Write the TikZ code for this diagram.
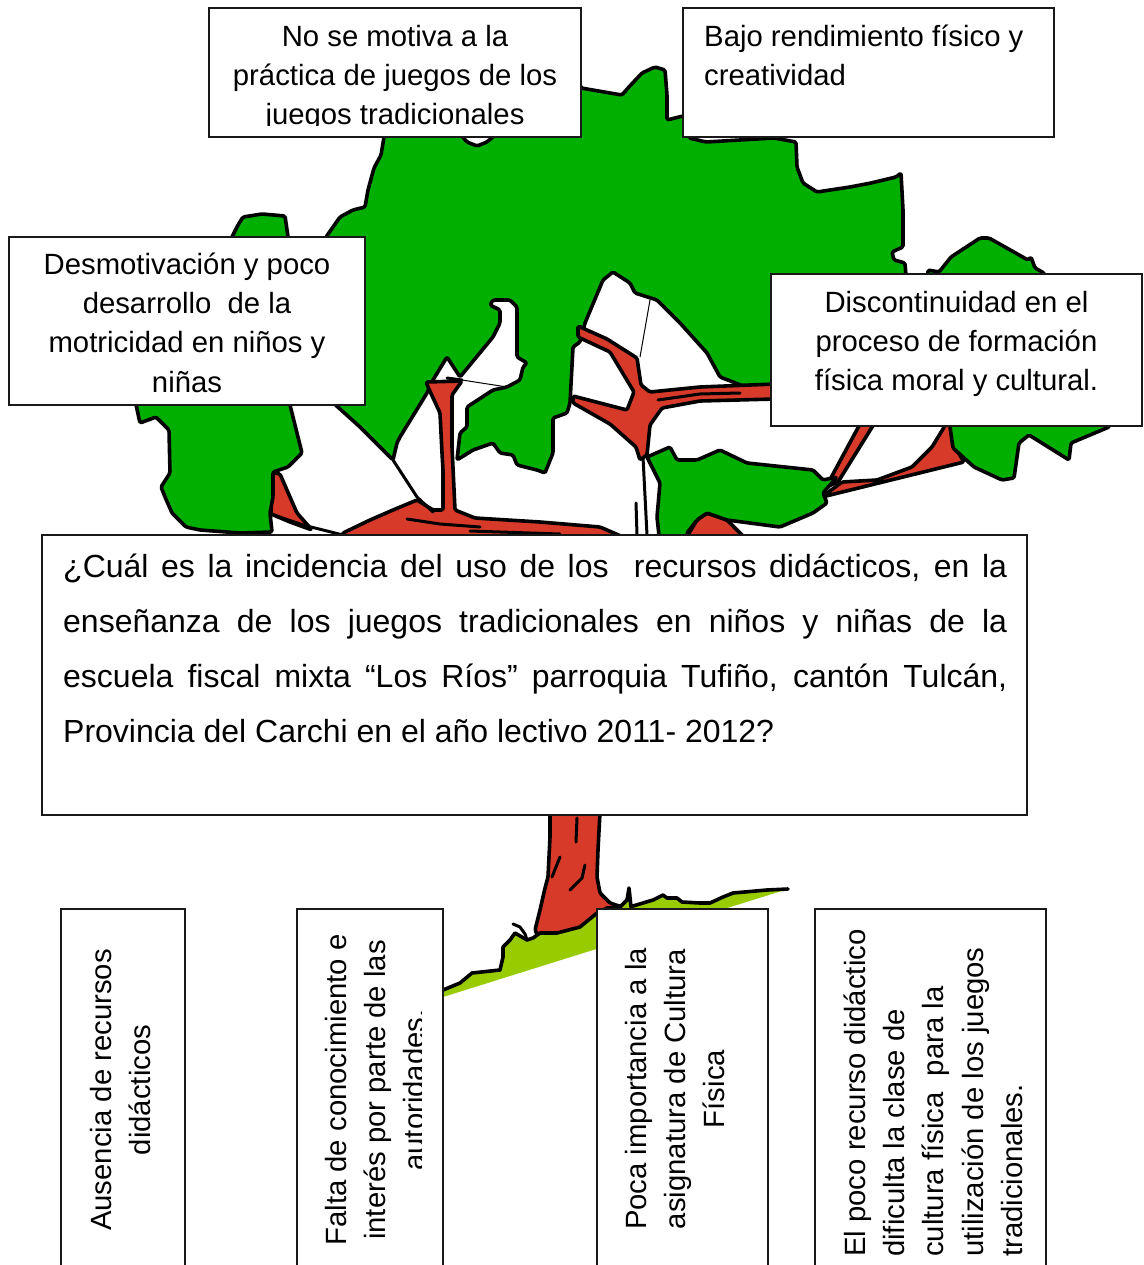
\documentclass[tikz,border=0pt]{standalone}
\usepackage{fontspec}
\setmainfont{Liberation Sans}
\definecolor{leaf}{RGB}{0,175,0}
\definecolor{bark}{RGB}{216,58,42}
\definecolor{turf}{RGB}{153,204,0}
\newcommand{\lnstrut}[1]{\rule{0pt}{#1}}

\begin{document}
\begin{tikzpicture}[x=1pt,y=-1pt,
  outline/.style={draw=black, line width=3.6pt, line join=round, line cap=round, rounded corners=1.5pt},
  foliage/.style={outline, fill=leaf},
  sky/.style={outline, fill=white},
  wood/.style={outline, fill=bark},
  ink/.style={draw=black, line width=3pt, line cap=round, line join=round},
  hair/.style={draw=black, line width=1pt, line cap=round},
  card/.style={draw=black!90, line width=1.6pt, fill=white, inner sep=0pt},
  label/.style={inner sep=0pt, font=\fontsize{29.3}{39.3}\selectfont, align=center},
]
\useasboundingbox (0,0) rectangle (1143,1265);
\clip (0,0) rectangle (1143,1265);
\fill[white] (0,0) rectangle (1143,1265);

% ---------- crown ----------
\draw[foliage] (335,405) -- (332,300) -- (326,237) -- (340,217) -- (353,210) -- (365,207) -- (368,190)
  -- (374,168) -- (381,155) -- (384,137) -- (390,120) -- (575,70) -- (581,88) -- (610,93) -- (622,95)
  -- (628,88) -- (642,73) -- (655,67) -- (665,70) -- (667,95) -- (667,120) -- (675,118) -- (683,116)
  -- (690,120) -- (689,138) -- (706,142) -- (740,140) -- (774,138) -- (796,142) -- (797,167) -- (803,183)
  -- (817,192) -- (850,187) -- (871,183) -- (896,177) -- (901,173) -- (903,210) -- (903,247) -- (892,252)
  -- (894,260) -- (905,263) -- (906,276) -- (900,330) -- (790,420) -- (700,545) -- (330,545) -- cycle;

% open sky between the branches: white fill, outlined only where it meets the leaves
\fill[white] (265,545) -- (265,475) -- (285,470) -- (285,400) -- (330,400) -- (360,427) -- (393,460)
  -- (397,443) -- (400,437) -- (427,393) -- (433,380) -- (447,357) -- (460,377) -- (493,337) -- (500,323)
  -- (500,310) -- (490,305) -- (493,300) -- (510,300) -- (517,307) -- (517,357) -- (527,363) -- (523,367)
  -- (520,380) -- (507,387) -- (493,390) -- (467,407) -- (467,427) -- (460,433) -- (457,460) -- (473,450)
  -- (493,443) -- (500,453) -- (513,455) -- (517,465) -- (537,470) -- (545,473) -- (553,453) -- (553,418)
  -- (567,413) -- (570,403) -- (573,347) -- (580,342) -- (585,323) -- (603,280) -- (613,272) -- (630,283)
  -- (635,293) -- (657,300) -- (680,323) -- (707,353) -- (720,377) -- (733,382) -- (753,390) -- (771,392)
  -- (1150,392) -- (1150,545) -- cycle;
\draw[outline] (285,400) -- (330,400) -- (360,427) -- (393,460)
  -- (397,443) -- (400,437) -- (427,393) -- (433,380) -- (447,357) -- (460,377) -- (493,337) -- (500,323)
  -- (500,310) -- (490,305) -- (493,300) -- (510,300) -- (517,307) -- (517,357) -- (527,363) -- (523,367)
  -- (520,380) -- (507,387) -- (493,390) -- (467,407) -- (467,427) -- (460,433) -- (457,460) -- (473,450)
  -- (493,443) -- (500,453) -- (513,455) -- (517,465) -- (537,470) -- (545,473) -- (553,453) -- (553,418)
  -- (567,413) -- (570,403) -- (573,347) -- (580,342) -- (585,323) -- (603,280) -- (613,272) -- (630,283)
  -- (635,293) -- (657,300) -- (680,323) -- (707,353) -- (720,377) -- (733,382) -- (753,390) -- (771,392)
  -- (790,392);

% branches
\draw[wood] (271,472) -- (280,474) -- (290,497) -- (297,513) -- (312,530) -- (290,522) -- (271,514) -- cycle;
\draw[ink] (271,514) -- (303,525) -- (343,535);
\draw[wood] (340,540) -- (343,533) -- (370,520) -- (393,510) -- (417,500) -- (433,510) -- (443,510)
  -- (443,470) -- (442,453) -- (440,413) -- (428,387) -- (426,382) -- (462,381) -- (452,395) -- (452,447)
  -- (455,510) -- (475,518) -- (540,522) -- (600,527) -- (630,540) -- cycle;
\draw[ink] (393,460) -- (417,497) -- (433,512);
\draw[ink] (407,519) -- (440,524) -- (480,527);
\draw[ink] (470,531) -- (560,534);
\draw[wood] (578,326) -- (607,339) -- (637,358) -- (641,385) -- (650,392) -- (700,387) -- (775,384)
  -- (775,399) -- (700,401) -- (662,408) -- (650,425) -- (647,455) -- (640,460) -- (636,447) -- (610,424)
  -- (573,403) -- (573,396) -- (627,410) -- (634,392) -- (610,352) -- (578,337) -- cycle;
\draw[ink] (658,400) -- (700,394) -- (740,393);
\draw[hair] (650,300) -- (640,357);
\draw[ink] (643,457) -- (647,535);
\draw[ink] (636,503) -- (637,535);
\draw[wood] (686,538) -- (697,520) -- (707,513) -- (727,520) -- (745,538) -- cycle;
\draw[wood] (822,497) -- (842,482) -- (877,480) -- (912,467) -- (932,447) -- (946,424) -- (962,424)
  -- (955,447) -- (964,462) -- cycle;
\draw[wood] (826,487) -- (860,424) -- (874,424) -- (838,482) -- cycle;

% leaf clusters in front of the branches
\draw[foliage] (647,457) -- (670,447) -- (677,460) -- (697,460) -- (720,450) -- (747,463) -- (813,470)
  -- (823,480) -- (837,477) -- (823,493) -- (827,503) -- (813,513) -- (780,527) -- (727,520) -- (707,513)
  -- (697,520) -- (687,533) -- (687,545) -- (660,545) -- (657,517) -- (660,483) -- cycle;
\draw[foliage] (232,237) -- (238,225) -- (243,217) -- (262,214) -- (285,216) -- (288,237) -- (290,405)
  -- (302,453) -- (288,467) -- (273,472) -- (273,497) -- (270,513) -- (272,532) -- (240,533) -- (200,530)
  -- (186,527) -- (172,513) -- (165,497) -- (161,487) -- (170,473) -- (169,430) -- (156,417) -- (140,423)
  -- (135,400) -- (200,300) -- cycle;
\draw[foliage] (928,274) -- (928,270) -- (939,272) -- (951,257) -- (980,238) -- (989,238) -- (1028,260)
  -- (1031,257) -- (1035,268) -- (1044,273) -- (1050,290) -- (1120,400) -- (1109,427) -- (1071,443)
  -- (1069,460) -- (1029,435) -- (1019,443) -- (1014,478) -- (1002,480) -- (974,467) -- (953,448)
  -- (950,427) -- (940,300) -- cycle;
\draw[sky] (461,135) -- (467,142) -- (477,146) -- (487,142) -- (495,135) -- cycle;
\draw[ink] (447,378) -- (462,380);
\draw[hair] (462,380) -- (507,387);

% ---------- trunk and ground ----------
\draw[wood] (550,812) -- (600,812) -- (598,850) -- (597,877) -- (600,893) -- (610,903) -- (622,907)
  -- (622,915) -- (540,940) -- (535,930) -- (540,910) -- (545,888) -- (548,877) -- (550,837) -- cycle;
\fill[turf] (443,990) -- (460,983) -- (472,973) -- (500,970) -- (503,957) -- (503,947) -- (510,940)
  -- (515,933) -- (527,940) -- (533,938) -- (540,933) -- (557,933) -- (580,927) -- (597,913) -- (607,908)
  -- (620,907) -- (627,900) -- (629,888) -- (631,907) -- (633,906) -- (653,900) -- (663,895) -- (667,898)
  -- (677,898) -- (682,902) -- (700,903) -- (710,903) -- (723,897) -- (733,893) -- (767,890) -- (788,889)
  -- (443,997) -- cycle;
\draw[ink, line width=3.6pt] (443,990) -- (460,983) -- (472,973) -- (500,970) -- (503,957) -- (503,947)
  -- (510,940) -- (515,933) -- (527,940) -- (533,938) -- (540,933) -- (557,933) -- (580,927) -- (597,913)
  -- (607,908) -- (620,907) -- (627,900) -- (629,888) -- (631,907) -- (633,906) -- (653,900) -- (663,895)
  -- (667,898) -- (677,898) -- (682,902) -- (700,903) -- (710,903) -- (723,897) -- (733,893) -- (767,890)
  -- (788,889);
\draw[ink] (513,924) -- (520,927) -- (525,934) -- (527,940);
\draw[ink] (577,818) -- (576,842);
\draw[ink] (560,857) -- (552,877);
\draw[ink] (585,865) -- (582,878) -- (570,890);

% ---------- effects ----------
\node[card, minimum width=372pt, minimum height=129pt] (b1) at (395,72.5) {};
\begin{scope}
  \clip (209,8) rectangle (581,126);
  \node[label, anchor=north] (t1) at (395,16.7)
    {\lnstrut{29.3pt}No se motiva a la\\práctica de juegos de los\\juegos tradicionales};
\end{scope}
\node[card, minimum width=371pt, minimum height=129pt] (b2) at (868.5,72.5) {};
\node[label, align=left, anchor=north west] (t2) at (704,16.7)
  {\lnstrut{29.3pt}Bajo rendimiento físico y\\creatividad};
\node[card, minimum width=356pt, minimum height=168pt] (b3) at (187,321) {};
\node[label, anchor=north] (t3) at (187,244.7)
  {\lnstrut{29.3pt}Desmotivación y poco\\desarrollo\ \ de la\\motricidad en niños y\\niñas};
\node[card, minimum width=371pt, minimum height=152pt] (b4) at (956.5,350) {};
\node[label, anchor=north] (t4) at (956.5,282.7)
  {\lnstrut{29.3pt}Discontinuidad en el\\proceso de formación\\física moral y cultural.};

% ---------- problem ----------
\node[card, minimum width=985pt, minimum height=280pt] (qb) at (534.5,675) {};
\node[inner sep=0pt, anchor=north west, text width=944pt, align=justify,
  font={\fontsize{32}{55}\selectfont\tolerance=9999\hyphenpenalty=10000}] (q) at (63,545.5)
  {\noindent\lnstrut{32pt}¿Cuál es la incidencia del uso de los\ \ recursos didácticos, en la\linebreak
   enseñanza de los juegos tradicionales en niños y niñas de la\linebreak
   escuela fiscal mixta “Los Ríos” parroquia Tufiño, cantón Tulcán,\linebreak
   Provincia del Carchi en el año lectivo 2011- 2012?};

% ---------- causes ----------
\node[card, minimum width=124pt, minimum height=381pt] (ba) at (123,1099.5) {};
\node[label, rotate=90, anchor=north] (ta) at (81.7,1090)
  {\lnstrut{29.3pt}Ausencia de recursos\\didácticos};
\node[card, minimum width=146pt, minimum height=381pt] (bb) at (370,1099.5) {};
\begin{scope}
  \clip (297,909) rectangle (421,1265);
  \node[label, rotate=90, anchor=north] (tb) at (316.7,1090)
    {\lnstrut{29.3pt}Falta de conocimiento e\\interés por parte de las\\autoridades.};
\end{scope}
\node[card, minimum width=171pt, minimum height=381pt] (bc) at (682.5,1099.5) {};
\node[label, rotate=90, anchor=north] (tc) at (616.7,1089)
  {\lnstrut{29.3pt}Poca importancia a la\\asignatura de Cultura\\Física};
\node[card, minimum width=231pt, minimum height=381pt] (bd) at (930.5,1099.5) {};
\node[label, align=left, rotate=90, anchor=north west] (td) at (835.7,1257)
  {\lnstrut{29.3pt}El poco recurso didáctico\\dificulta la clase de\\cultura física\ \ para la\\utilización de los juegos\\tradicionales.};
\end{tikzpicture}
\end{document}
